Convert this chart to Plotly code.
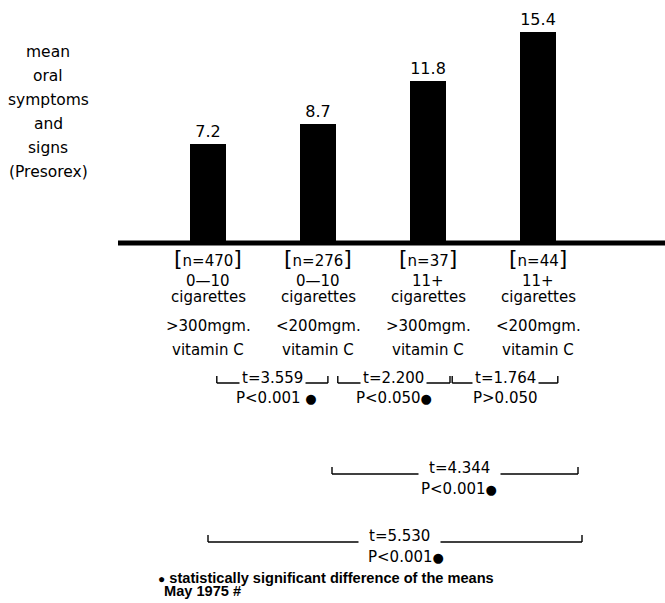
import plotly.graph_objects as go

# ---- data ----
groups = [1, 2, 3, 4]
means = [7.2, 8.7, 11.8, 15.4]
mean_labels = ["7.2", "8.7", "11.8", "15.4"]
n_labels = ["n=470", "n=276", "n=37", "n=44"]
smoking = ["0\u201410", "0\u201410", "11+", "11+"]
smoking2 = ["cigarettes", "cigarettes", "cigarettes", "cigarettes"]
vitc = [">300mgm.", "<200mgm.", ">300mgm.", "<200mgm."]
vitc2 = ["vitamin C", "vitamin C", "vitamin C", "vitamin C"]
ylabel_lines = ["mean", "oral", "symptoms", "and", "signs", "(Presorex)"]
DOT = '<span style="font-size:13px">\u25CF</span>'
pair_tests = [(1, 2, "t=3.559", "P<0.001 " + DOT),
              (2, 3, "t=2.200", "P<0.050" + DOT),
              (3, 4, "t=1.764", "P>0.050")]
wide_tests = [(2, 4, "t=4.344", "P<0.001" + DOT),
              (1, 4, "t=5.530", "P<0.001" + DOT)]
footnote = ['<span style="font-size:12px">\u25CF</span> statistically significant difference of the means',
            "May 1975 #"]

# ---- geometry ----
W, H = 665, 603
PX_PER_X = 110.0
X0 = 1 - 208 / PX_PER_X
XRANGE = [X0, X0 + W / PX_PER_X]
PX_PER_Y = 211 / 15.4
BASE_PY = 243
YRANGE = [-(H - BASE_PY) / PX_PER_Y, BASE_PY / PX_PER_Y]


def xd(px):
    return X0 + px / PX_PER_X


def yp(py):
    return 1 - py / H


FONT = "DejaVu Sans"
FOOT_FONT = "Liberation Sans"
fig = go.Figure()
fig.add_trace(go.Bar(
    x=groups, y=means, width=0.32, marker=dict(color="black", line=dict(width=0)),
    text=mean_labels, textposition="outside", cliponaxis=False,
    textfont=dict(family=FONT, size=16, color="black"), hoverinfo="skip"))

shapes = []
ann = []
# baseline
shapes.append(dict(type="line", xref="x", yref="y", x0=xd(118), x1=xd(665), y0=0, y1=0,
                   line=dict(color="black", width=5)))


def txt(x, py, t, size=15, bg=None, pad=1, xanchor="center", xref="x", family=FONT, weight="normal"):
    d = dict(x=x, xref=xref, y=yp(py), yref="paper", text=t, showarrow=False,
             font=dict(family=family, size=size, color="black", weight=weight),
             xanchor=xanchor, yanchor="middle")
    if bg:
        d["bgcolor"] = bg
        d["borderpad"] = pad
    ann.append(d)


# y label
for i, t in enumerate(ylabel_lines):
    txt(48 / W, 52 + 24 * i, t, xref="paper", size=15.5)

for g, n, s1, s2, v1, v2 in zip(groups, n_labels, smoking, smoking2, vitc, vitc2):
    txt(g, 258, '<span style="font-size:22px">[</span>' + n + '<span style="font-size:22px">]</span>')
    txt(g, 281, s1)
    txt(g, 297, s2)
    txt(g, 326, v1)
    txt(g, 350, v2)


def bracket(xl, xr, py, tick=7, w=1.4):
    shapes.append(dict(type="line", xref="x", yref="paper", x0=xl, x1=xr, y0=yp(py), y1=yp(py),
                       line=dict(color="black", width=w)))
    for xx in (xl, xr):
        shapes.append(dict(type="line", xref="x", yref="paper", x0=xx, x1=xx, y0=yp(py), y1=yp(py - tick),
                           line=dict(color="black", width=w)))


pair_offsets = [(0.08, 0.09), (0.18, 0.2), (0.22, 0.18)]
p_shift = [0.04, 0.0, 0.0]
for (a, b, t, p), (ol, orr), ps in zip(pair_tests, pair_offsets, p_shift):
    xl, xr = a + ol, b + orr
    bracket(xl, xr, 383)
    txt((xl + xr) / 2, 378, t, bg="white", pad=2)
    txt((xl + xr) / 2 + ps, 398, p)

wide_spans = [(xd(332), xd(578)), (xd(208), xd(582))]
wide_py = [(468, 474, 489), (536, 542, 557)]
wide_shift = [(0.04, 0.04), (0.04, 0.1)]
for (a, b, t, p), (xl, xr), (pt, pl, pp), (st, sp) in zip(wide_tests, wide_spans, wide_py, wide_shift):
    bracket(xl, xr, pl)
    txt((xl + xr) / 2 + st, pt, t, bg="white", pad=10)
    txt((xl + xr) / 2 + sp, pp, p)

txt(156 / W, 578, footnote[0], size=14.6, xanchor="left", xref="paper", family=FOOT_FONT, weight="bold")
txt(162 / W, 591, footnote[1], size=14.6, xanchor="left", xref="paper", family=FOOT_FONT, weight="bold")

fig.update_layout(
    width=W, height=H, margin=dict(l=0, r=0, t=0, b=0),
    paper_bgcolor="white", plot_bgcolor="white", showlegend=False,
    xaxis=dict(range=XRANGE, visible=False, fixedrange=True),
    yaxis=dict(range=YRANGE, visible=False, fixedrange=True),
    shapes=shapes, annotations=ann, bargap=0,
)
fig.write_html("out.html", config={"displayModeBar": False},
               post_script="document.body.style.margin='0';")
